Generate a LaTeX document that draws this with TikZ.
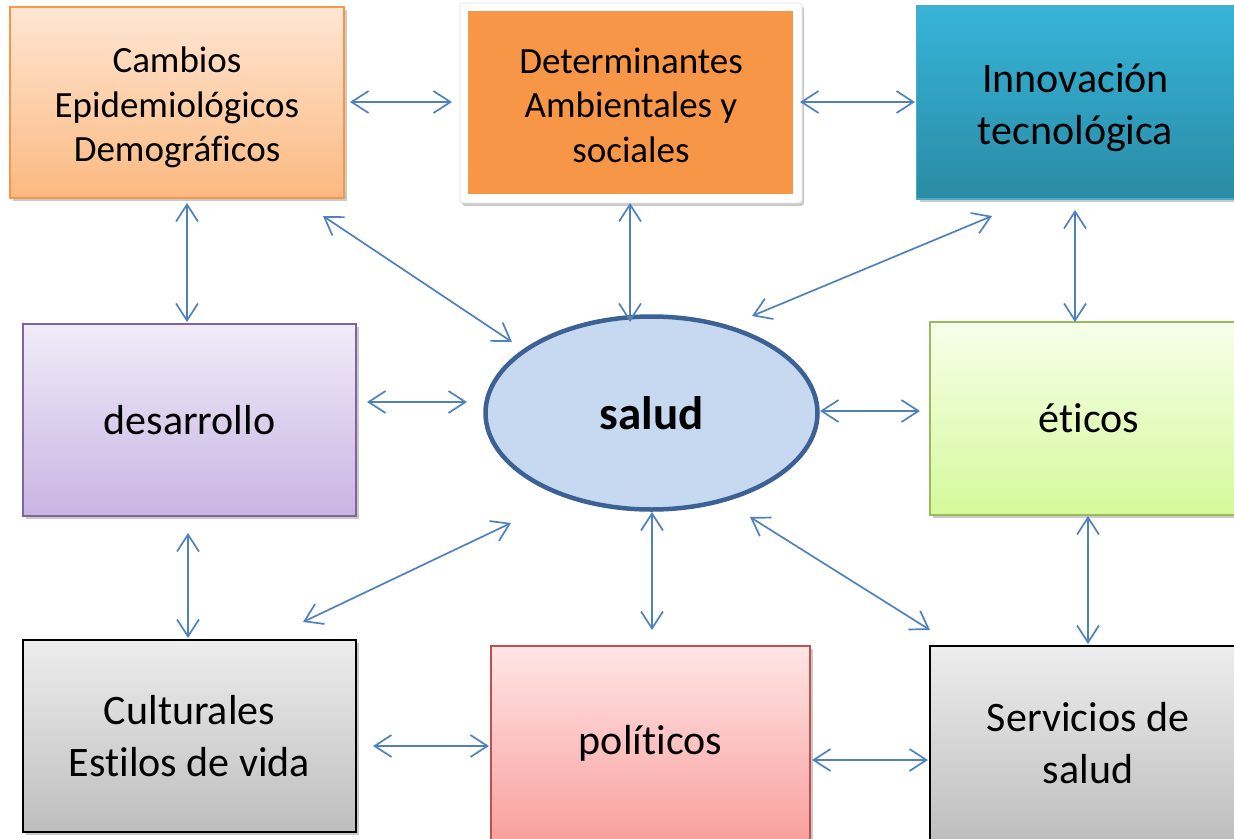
\documentclass[tikz,border=0pt]{standalone}
\usepackage{fontspec}
\setmainfont[Ligatures=NoCommon]{Carlito}
\usetikzlibrary{shapes.geometric,arrows.meta,shadows}
\definecolor{arrowblue}{HTML}{4F81BD}
\definecolor{orangeB}{HTML}{F79646}
\definecolor{peachT}{HTML}{FFE6D3}
\definecolor{peachB}{HTML}{FBB980}
\definecolor{tealT}{HTML}{36B4D8}
\definecolor{tealB}{HTML}{2A8BA5}
\definecolor{tealD}{HTML}{4BACC6}
\definecolor{lilT}{HTML}{F1ECF8}
\definecolor{lilB}{HTML}{C8B4E3}
\definecolor{lilD}{HTML}{8064A2}
\definecolor{ellF}{HTML}{C6D9F1}
\definecolor{ellD}{HTML}{3B6195}
\definecolor{grnT}{HTML}{F6FFEA}
\definecolor{grnB}{HTML}{D5F99A}
\definecolor{grnD}{HTML}{9BBB59}
\definecolor{gryT}{HTML}{EDEDED}
\definecolor{gryB}{HTML}{BEBEBE}
\definecolor{pinkT}{HTML}{FFE5E5}
\definecolor{pinkB}{HTML}{F9A09E}
\definecolor{pinkD}{HTML}{C0504D}
\newcommand{\lowered}[1]{\raisebox{-6pt}[\height][\depth]{\begin{tabular}{@{}c@{}}#1\end{tabular}}}
\tikzset{
  box/.style={rectangle, align=center, inner sep=0pt, line width=1.5pt,
    drop shadow={shadow xshift=3pt, shadow yshift=-3pt, opacity=0.35, fill=black!60}},
  smalltxt/.style={font=\fontsize{37}{44.5}\selectfont},
  bigtxt/.style={font=\fontsize{42}{52}\selectfont},
  biarrow/.style={draw=arrowblue, line width=1.7pt,
    {Straight Barb[length=17pt,width=22pt]}-{Straight Barb[length=17pt,width=22pt]}}
}
\begin{document}
\begin{tikzpicture}[x=1pt,y=-1pt]
\useasboundingbox (0,0) rectangle (1234,838);
\clip (0,0) rectangle (1234,838);

% boxes
\node[box, smalltxt, minimum width=334pt, minimum height=191pt, draw=orangeB,
  top color=peachT, bottom color=peachB] (cambios) at (177,102.5)
  {\lowered{Cambios\\Epidemiológicos\\Demográficos}};
\node[rectangle, align=center, inner sep=0pt, smalltxt, minimum width=342pt,
  minimum height=200pt, fill=white, draw=black!12, line width=0.8pt, rounded corners=3pt,
  drop shadow={shadow xshift=2pt, shadow yshift=-3pt, opacity=0.35, fill=black!60},
  path picture={\fill[orangeB, sharp corners]
    ([shift={(8pt,-8pt)}]path picture bounding box.north west) rectangle
    ([shift={(-9pt,9pt)}]path picture bounding box.south east);}]
  (determ) at (631,103)
  {\lowered{Determinantes\\Ambientales y\\sociales}};
\node[box, bigtxt, minimum width=318pt, minimum height=193pt, draw=tealD,
  top color=tealT, bottom color=tealB] (innov) at (1075.5,102.5)
  {\lowered{Innovación\\tecnológica}};
\node[box, bigtxt, minimum width=333pt, minimum height=192pt, draw=lilD,
  top color=lilT, bottom color=lilB] (desarrollo) at (189.5,420)
  {desarrollo};
\node[ellipse, draw=ellD, line width=4.5pt, fill=ellF, minimum width=332pt,
  minimum height=193pt, inner sep=0pt,
  font=\fontsize{47}{56}\selectfont\bfseries] (salud) at (651.5,413) {salud};
\node[box, bigtxt, minimum width=318pt, minimum height=193pt, draw=grnD,
  top color=grnT, bottom color=grnB] (eticos) at (1089,418.5)
  {éticos};
\node[box, bigtxt, minimum width=333pt, minimum height=192pt, draw=black,
  top color=gryT, bottom color=gryB] (culturales) at (189.5,736)
  {Culturales\\Estilos de vida};
\node[box, bigtxt, minimum width=319pt, minimum height=194pt, draw=pinkD,
  top color=pinkT, bottom color=pinkB] (politicos) at (650.5,743)
  {políticos};
\node[box, bigtxt, minimum width=316pt, minimum height=194pt, draw=black,
  top color=gryT, bottom color=gryB] (servicios) at (1088,743)
  {Servicios de\\salud};

% arrow end points
\coordinate (a1) at (350,102);  \coordinate (b1) at (452,102);
\coordinate (a2) at (800,102);  \coordinate (b2) at (915,102);
\coordinate (a3) at (187,203);  \coordinate (b3) at (187,322);
\coordinate (a4) at (323,216);  \coordinate (b4) at (512,342);
\coordinate (a5) at (630,203);  \coordinate (b5) at (630,322);
\coordinate (a6) at (992,216);  \coordinate (b6) at (752,316);
\coordinate (a7) at (1075,210); \coordinate (b7) at (1075,322);
\coordinate (a8) at (367,402);  \coordinate (b8) at (467,402);
\coordinate (a9) at (820,411);  \coordinate (b9) at (920,411);
\coordinate (a10) at (188,533); \coordinate (b10) at (188,638);
\coordinate (a11) at (511,523); \coordinate (b11) at (303,622);
\coordinate (a12) at (652,512); \coordinate (b12) at (652,630);
\coordinate (a13) at (750,517); \coordinate (b13) at (930,630);
\coordinate (a14) at (1088,516);\coordinate (b14) at (1088,644);
\coordinate (a15) at (373,746); \coordinate (b15) at (489,746);
\coordinate (a16) at (812,760); \coordinate (b16) at (928,760);

\foreach \i in {1,...,16} {\draw[biarrow] (a\i) -- (b\i);}
\end{tikzpicture}
\end{document}
